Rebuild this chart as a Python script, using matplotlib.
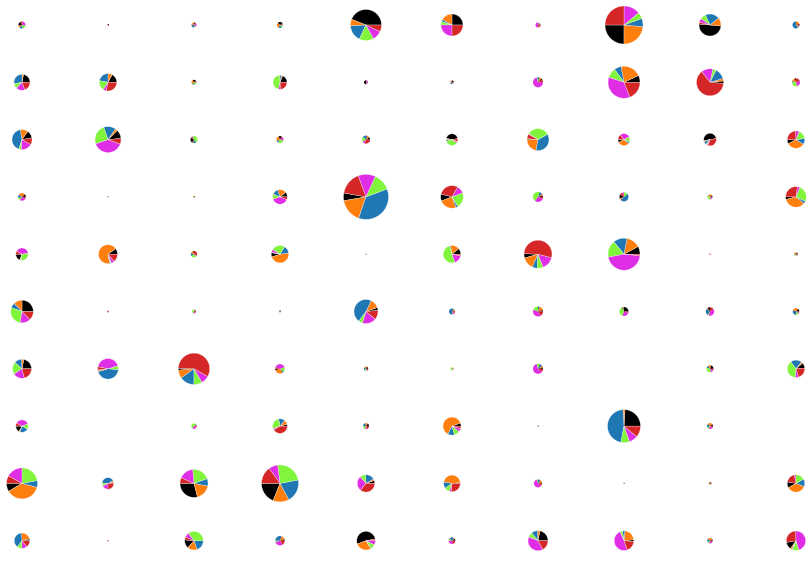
import numpy as np
import matplotlib.pyplot as plt
from matplotlib.patches import Wedge

# slice colours, counter-clockwise order inside every pie
colors = ['#000000', '#ff7f0e', '#1f77b4', '#80f53c', '#e02ee6', '#d62728']

# pie radius (px) per grid cell, rows top to bottom
sizes = [
    [3.5, 1.0, 2.5, 3.0, 15.5, 11.0, 2.5, 19.0, 11.0, 3.5],
    [8.0, 8.7, 2.5, 7.0, 2.0, 1.8, 5.0, 16.0, 13.5, 4.0],
    [10.0, 13.0, 3.5, 3.5, 4.0, 5.8, 11.0, 6.0, 6.3, 8.7],
    [3.8, 0.7, 1.0, 7.3, 22.5, 11.3, 5.0, 4.5, 2.5, 10.3],
    [6.2, 9.5, 3.2, 8.7, 0.7, 8.7, 14.0, 16.0, 0.8, 1.8],
    [11.3, 1.0, 2.0, 1.0, 12.0, 3.0, 5.0, 4.5, 4.2, 3.3],
    [9.5, 10.3, 15.7, 4.7, 2.2, 1.5, 5.0, 0.0, 3.5, 8.7],
    [6.2, 0.0, 2.7, 7.3, 3.0, 9.0, 0.8, 16.5, 3.0, 0.0],
    [15.5, 5.8, 14.0, 18.5, 8.7, 8.3, 4.0, 0.8, 1.5, 8.7],
    [7.7, 0.8, 9.3, 4.7, 9.3, 3.3, 10.0, 9.8, 2.7, 9.7],
]

# angle (deg, ccw from east) where the black slice starts
starts = [
    [120, 0, 60, 30, 0, 0, 0, 180, 175, 0],
    [0, 0, 30, 0, 90, 0, 30, 0, 355, 90],
    [10, 5, 150, 60, 0, 10, 175, 180, 10, 180],
    [0, 0, 0, 0, 170, 165, 0, 150, 0, 180],
    [180, 0, 90, 170, 0, 0, 178, 0, 0, 0],
    [0, 0, 0, 0, 5, 0, 0, 0, 90, 0],
    [0, 185, 178, 180, 0, 0, 0, 0, 0, 5],
    [180, 0, 0, 0, 0, 0, 0, 0, 0, 0],
    [180, 0, 180, 180, 0, 0, 0, 0, 0, 170],
    [0, 0, 175, 0, 10, 0, 0, 355, 0, 190],
]

# shares (black, orange, blue, green, magenta, red), row-major
shares = [
    (.2, .1, .15, .2, .25, .1), (.3, .2, .1, .1, .2, .1), (.1, .2, .3, .1, .2, .1),
    (.3, .3, .15, .15, .05, .05), (.44, .07, .17, .15, .1, .07), (.25, .17, .03, .05, .25, .25),
    (.05, .05, .05, .05, .6, .2), (.25, .236, .07, .055, .139, .25), (.5, .125, .21, .083, .055, .028),
    (.05, .2, .6, .05, .05, .05),

    (.22, .03, .28, .1, .18, .19), (.17, .08, .22, .19, .06, .28), (.25, .3, .1, .25, .05, .05),
    (.19, .03, .04, .46, .04, .24), (.5, .05, .05, .05, .3, .05), (.3, .2, .3, .05, .1, .05),
    (.05, .08, .07, .02, .7, .08), (.07, .21, .07, .1, .36, .19), (.03, .03, .13, .04, .14, .63),
    (.05, .15, .05, .3, .25, .2),

    (.125, .125, .42, .04, .18, .11), (.11, .03, .15, .25, .39, .07), (.25, .05, .15, .45, .05, .05),
    (.15, .25, .1, .3, .15, .05), (.1, .1, .2, .2, .1, .3), (.44, .04, .04, .36, .04, .08),
    (.015, .22, .36, .33, .01, .065), (.08, .31, .05, .14, .28, .14), (.5, .03, .08, .03, .03, .33),
    (.08, .33, .11, .17, .07, .24),

    (.12, .29, .14, .11, .28, .06), (.2, .2, .2, .2, .1, .1), (.2, .3, .1, .2, .1, .1),
    (.11, .19, .14, .11, .39, .06), (.055, .17, .36, .125, .125, .165), (.1, .25, .03, .22, .11, .29),
    (.05, .05, .1, .45, .3, .05), (.14, .06, .5, .14, .06, .1), (.1, .3, .05, .35, .15, .05),
    (.04, .35, .04, .26, .04, .27),

    (.19, .02, .02, .3, .39, .08), (.1, .68, .015, .015, .055, .135), (.05, .15, .15, .3, .05, .3),
    (.08, .47, .14, .25, .05, .01), (.2, .2, .2, .2, .1, .1), (.11, .17, .015, .51, .165, .03),
    (.05, .14, .055, .07, .15, .535), (.08, .14, .14, .17, .455, .015), (.1, .1, .1, .1, .5, .1),
    (.2, .3, .1, .2, .1, .1),

    (.25, .125, .07, .28, .15, .125), (.05, .1, .05, .1, .6, .1), (.1, .1, .1, .4, .2, .1),
    (.4, .1, .2, .1, .1, .1), (.04, .125, .47, .055, .185, .125), (.05, .1, .6, .05, .1, .1),
    (.05, .15, .05, .2, .4, .15), (.25, .05, .05, .35, .25, .05), (.1, .05, .25, .05, .4, .15),
    (.15, .3, .3, .15, .05, .05),

    (.22, .04, .125, .21, .195, .21), (.015, .02, .44, .06, .42, .045), (.02, .085, .15, .085, .085, .575),
    (.05, .3, .05, .15, .4, .05), (.2, .2, .2, .2, .1, .1), (.05, .05, .05, .7, .1, .05),
    (.05, .05, .1, .1, .6, .1), (.2, .2, .2, .2, .1, .1), (.2, .15, .1, .35, .15, .05),
    (.1, .03, .21, .39, .055, .215),

    (.17, .03, .22, .14, .36, .08), (.2, .2, .2, .2, .1, .1), (.05, .05, .05, .5, .3, .05),
    (.04, .1, .14, .28, .03, .41), (.15, .15, .2, .2, .1, .2), (.055, .62, .12, .1, .06, .045),
    (.2, .2, .2, .2, .1, .1), (.24, .02, .46, .085, .085, .11), (.1, .3, .2, .1, .2, .1),
    (.2, .2, .2, .2, .1, .1),

    (.085, .375, .07, .22, .17, .08), (.03, .05, .42, .08, .17, .25), (.29, .18, .085, .21, .17, .065),
    (.19, .14, .2, .24, .08, .15), (.055, .03, .17, .11, .28, .355), (.015, .46, .125, .1, .04, .26),
    (.05, .1, .1, .05, .6, .1), (.2, .2, .2, .2, .1, .1), (.2, .3, .1, .2, .1, .1),
    (.11, .36, .14, .17, .03, .19),

    (.04, .22, .39, .1, .11, .14), (.1, .1, .1, .1, .5, .1), (.15, .17, .19, .36, .08, .05),
    (.05, .15, .3, .05, .3, .15), (.53, .28, .01, .08, .08, .02), (.1, .05, .25, .1, .3, .2),
    (.22, .04, .1, .08, .39, .17), (.03, .22, .04, .04, .49, .18), (.1, .3, .2, .1, .2, .1),
    (.125, .03, .015, .1, .46, .27),
]

W, H = 811, 561
fig = plt.figure(figsize=(W / 100, H / 100), dpi=100)
ax = fig.add_axes([0, 0, 1, 1])
ax.set_xlim(0, W)
ax.set_ylim(0, H)
ax.axis('off')

for i in range(10):
    for j in range(10):
        r = sizes[i][j]
        if r <= 0:
            continue
        cx = 22 + 86 * j
        cy = H - (25 + 57.3 * i)
        frac = np.array(shares[i * 10 + j], dtype=float)
        frac = frac / frac.sum()
        a = starts[i][j]
        # kleine Kuchen ohne weisse Kanten, sonst wirken sie blass
        lw = 0.2 if r > 5 else 0
        for k, f in enumerate(frac):
            a2 = a + f * 360
            ax.add_patch(Wedge((cx, cy), r, a, a2, facecolor=colors[k],
                               edgecolor='white', linewidth=lw))
            a = a2

fig.savefig('out.png', dpi=100)
